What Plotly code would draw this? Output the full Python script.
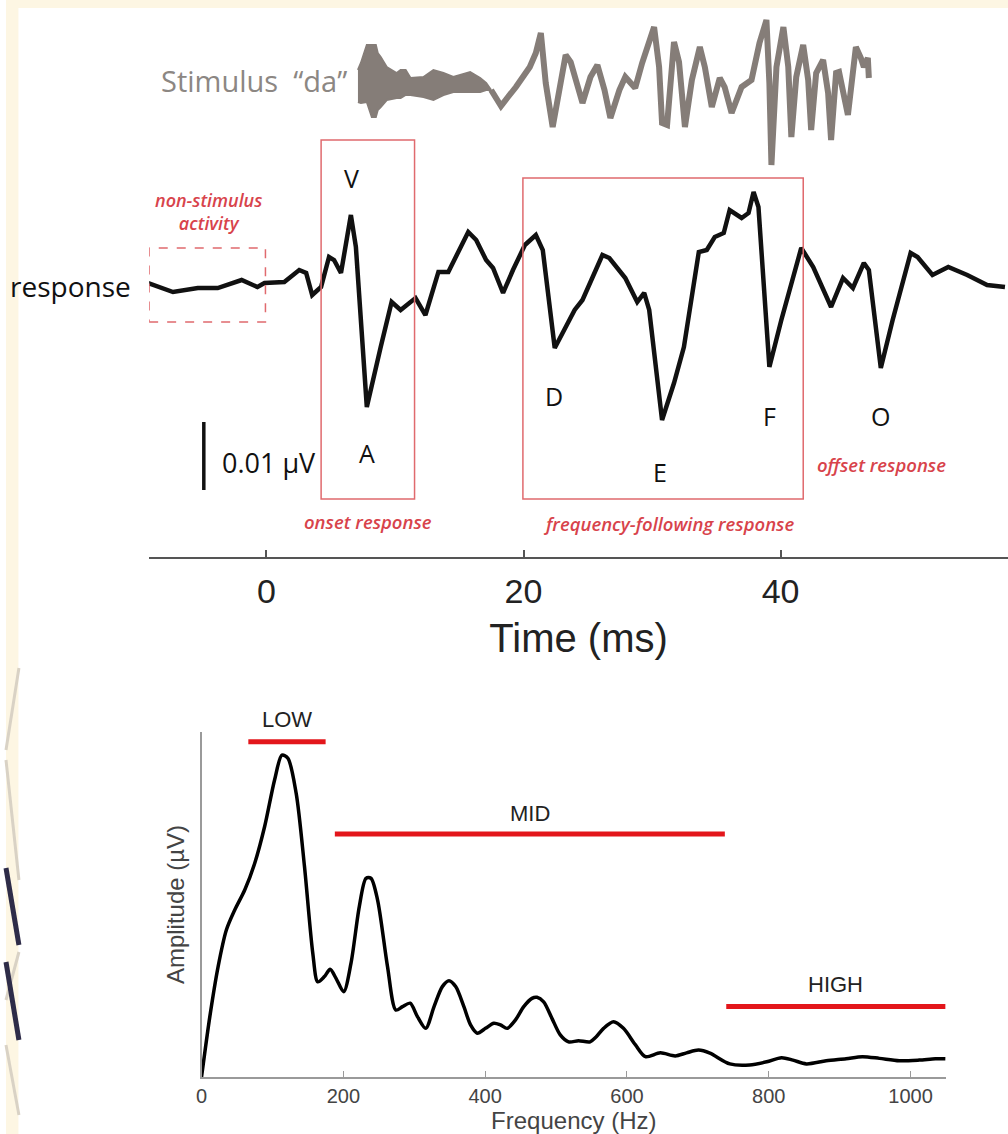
import plotly.graph_objects as go

W, H = 1008, 1134

# ---------------- data ----------------
# Response (time in ms, amplitude in µV)
resp_t = [-9.20, -7.27, -5.34, -3.79, -1.93, -0.70, -0.15, 1.39, 2.55, 3.09, 3.56, 4.25, 4.87, 5.26, 5.80,
          6.57, 6.96, 7.81, 8.89, 9.74, 10.44, 11.60, 12.37, 13.38, 14.15, 15.70, 16.32, 17.09, 17.63, 18.41,
          19.18, 20.11, 20.96, 21.50, 22.43, 23.98, 24.59, 26.14, 26.68, 27.92, 28.85, 29.39, 29.78, 30.78,
          31.71, 32.48, 33.64, 34.26, 34.88, 35.58, 36.04, 36.97, 37.51, 37.90, 38.28, 39.13, 40.06, 41.61,
          42.54, 43.93, 44.86, 45.63, 46.48, 46.87, 47.80, 48.72, 50.12, 50.66, 51.82, 53.05, 54.52, 56.07, 57.46]
resp_uV = [0.00059, -0.00074, -0.00015, -0.00015, 0.00103, 0.0, 0.00059, 0.00074, 0.00250, 0.00206, -0.00118,
           0.0, 0.00441, 0.00397, 0.00206, 0.01059, 0.00588, -0.01765, -0.00882, -0.00221, -0.00338, -0.00162,
           -0.00412, 0.00221, 0.00221, 0.00809, 0.00691, 0.00397, 0.00279, -0.00088, 0.00250, 0.00618, 0.00765,
           0.00544, -0.00897, -0.00338, -0.00191, 0.00471, 0.00426, 0.00132, -0.00221, -0.00088, -0.00338,
           -0.01956, -0.01412, -0.00882, 0.00515, 0.00544, 0.00735, 0.00794, 0.01132, 0.01015, 0.01088, 0.01397,
           0.01176, -0.01176, -0.00485, 0.00574, 0.00294, -0.00294, 0.00132, -0.00015, 0.00353, 0.00250,
           -0.01191, -0.00485, 0.00500, 0.00441, 0.00176, 0.00294, 0.00176, 0.00029, 0.0]

# Stimulus "da": burst envelope (arbitrary units)
burst_t = [7.12, 7.35, 7.81, 8.20, 8.51, 8.66, 8.89, 9.36, 10.13, 10.44, 10.83, 11.21, 12.22, 12.99, 13.77,
           14.54, 15.85, 16.63, 17.09, 17.48]
burst_hi = [2.0, 2.7, 4.5, 4.5, 4.5, 3.7, 3.3, 2.3, 1.7, 2.0, 2.0, 1.2, 1.3, 2.0, 1.7, 1.3, 1.8, 1.2, 0.7, 0.0]
burst_lo = [-1.2, -1.3, -1.2, -2.7, -2.7, -2.0, -1.7, -1.0, -0.8, -0.8, -0.5, -0.5, -0.7, -1.0, -0.5, -0.2,
            -0.2, -0.2, 0.0, 0.0]
# Stimulus "da": voiced part
stim_t = [17.48, 18.02, 18.25, 18.79, 19.41, 20.49, 20.96, 21.35, 21.73, 22.27, 22.82, 23.28, 23.67, 24.05,
          24.59, 25.21, 25.75, 26.30, 26.76, 27.46, 27.92, 28.69, 29.23, 30.16, 30.55, 30.78, 31.17, 31.71,
          32.10, 32.56, 33.10, 33.72, 34.11, 34.65, 35.27, 35.65, 36.19, 36.97, 37.74, 38.36, 38.90, 39.13,
          39.29, 39.68, 40.22, 40.60, 40.84, 41.22, 41.76, 42.15, 42.38, 42.77, 43.31, 43.70, 43.93, 44.32,
          44.55, 45.24, 45.86, 46.25, 46.48, 46.79, 46.87]
stim_a = [0.0, -1.3, -1.6, -0.7, 0.3, 2.3, 3.7, 5.7, 0.7, -3.7, 0.7, 3.5, 2.8, 1.3, -1.3, 1.3, 2.5, 0.0, -2.8,
          0.0, 1.3, 0.2, 2.7, 6.3, 2.3, -3.3, -3.5, 4.8, 2.8, -3.7, 1.0, 4.3, 2.3, -1.7, 1.2, 0.3, -2.3, 0.3,
          1.0, 4.7, 7.0, 0.7, -7.5, 2.3, 6.3, 2.3, -4.7, 1.3, 4.5, 1.0, -4.0, 1.7, 3.0, -0.3, -5.0, 1.7, 1.8,
          -2.5, 4.3, 3.2, 2.3, 3.2, 1.2]

# Spectrum (Hz, amplitude)
freq_hz = [0, 11.7, 23.4, 35, 46.8, 60.9, 74.9, 89, 103, 113.4, 121.8, 133.5, 145.2, 156.9, 163.9, 173.3,
           181.3, 189.7, 200.5, 210.8, 222.5, 231.9, 238.9, 248.3, 262.3, 274, 283.4, 294.2, 304.5, 316.2,
           327.9, 339.6, 349, 358.4, 370, 379.4, 388.8, 400.5, 412.2, 421.6, 431, 442.6, 454.4, 466, 473.1,
           482.5, 494.2, 505.9, 517.6, 531.6, 548, 556, 567, 581, 595, 612, 626, 647, 668, 684, 701, 717, 745,
           773, 797, 818, 834, 853, 881, 909, 932, 956, 984, 1012, 1035, 1049]
amp = [0, 0.175, 0.32, 0.426, 0.484, 0.542, 0.619, 0.726, 0.861, 0.933, 0.924, 0.822, 0.610, 0.359, 0.276,
       0.291, 0.312, 0.286, 0.247, 0.330, 0.494, 0.576, 0.576, 0.513, 0.320, 0.194, 0.204, 0.214, 0.175, 0.141,
       0.204, 0.262, 0.279, 0.262, 0.204, 0.151, 0.127, 0.141, 0.156, 0.151, 0.141, 0.165, 0.204, 0.228, 0.231,
       0.218, 0.170, 0.122, 0.102, 0.105, 0.102, 0.115, 0.141, 0.160, 0.141, 0.093, 0.059, 0.070, 0.061, 0.070,
       0.078, 0.069, 0.038, 0.035, 0.044, 0.056, 0.049, 0.038, 0.047, 0.053, 0.059, 0.054, 0.047, 0.049,
       0.053, 0.053]

bands = ["LOW", "MID", "HIGH"]
band_start = [66, 188, 740]
band_end = [175, 738, 1049]
band_level = [0.972, 0.704, 0.204]
band_label_level = [1.035, 0.765, 0.267]

peak_labels = ["V", "A", "D", "E", "F", "O"]
peak_t = [6.65, 7.81, 22.35, 30.63, 39.13, 47.80]
peak_v = [0.01603, -0.02441, -0.01603, -0.02721, -0.01897, -0.01897]

time_ticks = [0, 20, 40]
freq_ticks = [0, 200, 400, 600, 800, 1000]

# ---------------- styling helpers ----------------
def px(x, y):
    return x / W, 1 - y / H

STIM = "#857d78"
RED = "#e06a6e"
REDTXT = "#d8434b"
BANDRED = "#e3161b"

fig = go.Figure()

# stimulus burst
fig.add_trace(go.Scatter(x=burst_t, y=burst_hi, mode="lines", line=dict(color=STIM, width=2),
                         xaxis="x", yaxis="y3", showlegend=False, hoverinfo="skip"))
fig.add_trace(go.Scatter(x=burst_t, y=burst_lo, mode="lines", line=dict(color=STIM, width=2),
                         fill="tonexty", fillcolor=STIM,
                         xaxis="x", yaxis="y3", showlegend=False, hoverinfo="skip"))
fig.add_trace(go.Scatter(x=stim_t, y=stim_a, mode="lines", line=dict(color=STIM, width=6),
                         xaxis="x", yaxis="y3", showlegend=False, hoverinfo="skip"))
# response
fig.add_trace(go.Scatter(x=resp_t, y=resp_uV, mode="lines", line=dict(color="#111111", width=4.5),
                         xaxis="x", yaxis="y", showlegend=False))
# spectrum
fig.add_trace(go.Scatter(x=freq_hz, y=amp, mode="lines",
                         line=dict(color="#000000", width=3.5, shape="spline", smoothing=0.8),
                         xaxis="x2", yaxis="y2", showlegend=False))
# band bars
for b, s, e, lv in zip(bands, band_start, band_end, band_level):
    fig.add_trace(go.Scatter(x=[s, e], y=[lv, lv], mode="lines", line=dict(color=BANDRED, width=5),
                             xaxis="x2", yaxis="y2", showlegend=False))

# ---------------- axes ----------------
y_bot_px, y_top_px = 557, 10
base_px, uv_per_px = 287, 1 / 6800.0
yr = [(base_px - y_bot_px) * uv_per_px, (base_px - y_top_px) * uv_per_px]
stim_base, stim_per_px = 90, 0.1
yr3 = [(stim_base - y_bot_px) * stim_per_px, (stim_base - y_top_px) * stim_per_px]
t_per_px = 1 / 12.93
xr = [(144 - 262) * t_per_px, (1008 - 262) * t_per_px]

AXFONT = "Liberation Sans, Arial, sans-serif"
fig.update_layout(
    width=W, height=H, margin=dict(l=0, r=0, t=0, b=0),
    paper_bgcolor="white", plot_bgcolor="rgba(0,0,0,0)",
    xaxis=dict(domain=[144 / W, 1.0], range=xr, anchor="y", showgrid=False, zeroline=False,
               showline=True, linecolor="#555555", linewidth=2,
               ticks="inside", ticklen=7, tickwidth=1.5, tickcolor="#555555",
               tickvals=time_ticks, ticktext=[str(v) for v in time_ticks],
               tickfont=dict(family=AXFONT, size=34, color="#222222"), ticklabelstandoff=3,
               title=dict(text="Time (ms)", font=dict(family=AXFONT, size=40, color="#222222"), standoff=15)),
    yaxis=dict(domain=[1 - y_bot_px / H, 1 - y_top_px / H], range=yr, anchor="x", visible=False,
               fixedrange=True),
    yaxis3=dict(domain=[1 - y_bot_px / H, 1 - y_top_px / H], range=yr3, overlaying="y", anchor="x",
                visible=False),
    xaxis2=dict(domain=[196.7 / W, 945.7 / W], range=[0, 1050], anchor="y2", showgrid=False, zeroline=False,
                showline=True, linecolor="#9a9a9a", linewidth=1.5,
                ticks="inside", ticklen=6, tickcolor="#9a9a9a",
                tickvals=freq_ticks, ticktext=[str(v) for v in freq_ticks],
                tickfont=dict(family=AXFONT, size=20, color="#444444"), ticklabelstandoff=0,
                title=dict(text="Frequency (Hz)", font=dict(family=AXFONT, size=24, color="#444444"), standoff=2)),
    yaxis2=dict(domain=[1 - 1077 / H, 1 - 732 / H], range=[0, 1.0], anchor="x2", showgrid=False, zeroline=False,
                showline=True, linecolor="#9a9a9a", linewidth=1.5, showticklabels=False, ticks="",
                title=dict(text="Amplitude (µV)", font=dict(family=AXFONT, size=24, color="#444444"), standoff=8)),
)

# ---------------- shapes ----------------
shapes = []
CREAM = "#fdf6e3"
shapes.append(dict(type="rect", xref="paper", yref="paper", x0=0, x1=1, y0=1 - 8 / H, y1=1,
                   fillcolor=CREAM, line=dict(width=0), layer="below"))
shapes.append(dict(type="rect", xref="paper", yref="paper", x0=0, x1=12.5 / W, y0=0, y1=1,
                   fillcolor=CREAM, line=dict(width=0), layer="below"))
deco = [((13, 668), (0, 750), "#d9d2c5", 3), ((0, 760), (13, 880), "#d9d2c5", 3),
        ((0, 868), (13, 945), "#2e2c48", 5), ((13, 952), (0, 1000), "#d9d2c5", 3),
        ((0, 962), (13, 1040), "#2e2c48", 5), ((0, 1045), (13, 1115), "#d9d2c5", 3)]
for (a, b, c, w) in deco:
    x0, y0 = px(*a)
    x1, y1 = px(*b)
    shapes.append(dict(type="line", xref="paper", yref="paper", x0=x0, y0=y0, x1=x1, y1=y1,
                       line=dict(color=c, width=w), layer="above"))

def tx(p):
    return (p - 262) * t_per_px

def vy(p):
    return (base_px - p) * uv_per_px

shapes.append(dict(type="rect", xref="x", yref="y", x0=tx(144), x1=tx(261), y0=vy(322), y1=vy(248),
                   line=dict(color=RED, width=1.5, dash="dash"), layer="above"))
shapes.append(dict(type="rect", xref="x", yref="y", x0=tx(317), x1=tx(411), y0=vy(499), y1=vy(140),
                   line=dict(color=RED, width=1.5), layer="above"))
shapes.append(dict(type="rect", xref="x", yref="y", x0=tx(520), x1=tx(802), y0=vy(499), y1=vy(178),
                   line=dict(color=RED, width=1.5), layer="above"))
shapes.append(dict(type="line", xref="x", yref="y", x0=tx(199), x1=tx(199), y0=vy(490), y1=vy(422),
                   line=dict(color="#111111", width=3.5)))
fig.update_layout(shapes=shapes)

# ---------------- annotations ----------------
ann = []
TXT = "Open Sans, Noto Sans, sans-serif"

def add_text(text, x, y, size, color, xanchor="center", italic=False, family=TXT, weight=None):
    px_x, px_y = px(x, y)
    f = dict(family=family, size=size, color=color)
    if italic:
        f["style"] = "italic"
    if weight:
        f["weight"] = weight
    ann.append(dict(text=text, x=px_x, y=px_y, xref="paper", yref="paper", showarrow=False,
                    xanchor=xanchor, yanchor="middle", font=f))

add_text("Stimulus  “da”", 345, 80, 29, "#8c8783", xanchor="right")
add_text("response", 128, 286, 28, "#111111", xanchor="right")
add_text("non-stimulus<br>activity", 204, 211, 18, REDTXT, italic=True, weight=600)
add_text("onset response", 364, 522, 18.5, REDTXT, italic=True, weight=600)
add_text("frequency-following response", 666, 523, 18.5, REDTXT, italic=True, weight=600)
add_text("offset response", 881, 465, 18.5, REDTXT, italic=True, weight=600)
add_text("0.01 µV", 215, 462, 27, "#111111", xanchor="left")

for lab, t, v in zip(peak_labels, peak_t, peak_v):
    ann.append(dict(text=lab, x=t, y=v, xref="x", yref="y", showarrow=False,
                    xanchor="center", yanchor="middle",
                    font=dict(family=TXT, size=25, color="#111111")))

for b, s, e, lv in zip(bands, band_start, band_end, band_label_level):
    ann.append(dict(text=b, x=(s + e) / 2, y=lv, xref="x2", yref="y2 domain", showarrow=False,
                    xanchor="center", yanchor="middle",
                    font=dict(family=AXFONT, size=22, color="#222222")))

fig.update_layout(annotations=ann)

fig.write_html("out.html", config={"displayModeBar": False},
               post_script="document.body.style.margin='0px';")
